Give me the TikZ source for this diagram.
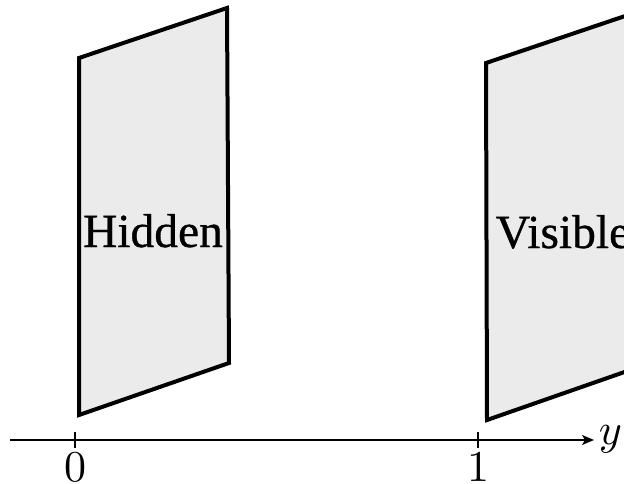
\documentclass[tikz,border=0pt]{standalone}
\usepackage{fontspec}
\newfontfamily\panelfont[FakeBold=0.7]{Liberation Serif}
\usetikzlibrary{arrows.meta}
\begin{document}
\begin{tikzpicture}[x=1pt,y=-1pt,
  panel/.style={draw=black,line width=4pt,fill=black!8,line join=miter},
  lbl/.style={font=\panelfont\fontsize{47.5}{52}\selectfont,anchor=base,inner sep=0pt},
  axisline/.style={line width=1.5pt,-{Stealth[length=12pt,width=10pt,inset=3pt]}},
  tickmark/.style={line width=1.5pt},
  num/.style={scale=4.4,inner sep=0pt}]
\useasboundingbox (0,0) rectangle (624,484);
\clip (0,0) rectangle (624,484);
% panels
\draw[panel] (79,58) -- (227,8) -- (229,363) -- (79,415) -- cycle;
\draw[panel] (486,63) -- (634,13) -- (636,368) -- (487,420) -- cycle;
\node[lbl] (hidden) at (153,247) {Hidden};
\node[lbl] (visible) at (563,248) {Visible};
% axis
\coordinate (a0) at (10,440);
\coordinate (a1) at (594,440);
\draw[axisline] (a0) -- (a1);
\coordinate (t0a) at (75,432);
\coordinate (t0b) at (75,448);
\coordinate (t1a) at (478,432);
\coordinate (t1b) at (478,448);
\draw[tickmark] (t0a) -- (t0b);
\draw[tickmark] (t1a) -- (t1b);
\node[num,anchor=north] (l0) at (75,452) {$0$};
\node[num,anchor=north] (l1) at (478,452) {$1$};
\node[num,anchor=base west] (ly) at (598,444) {$y$};
\end{tikzpicture}
\end{document}
